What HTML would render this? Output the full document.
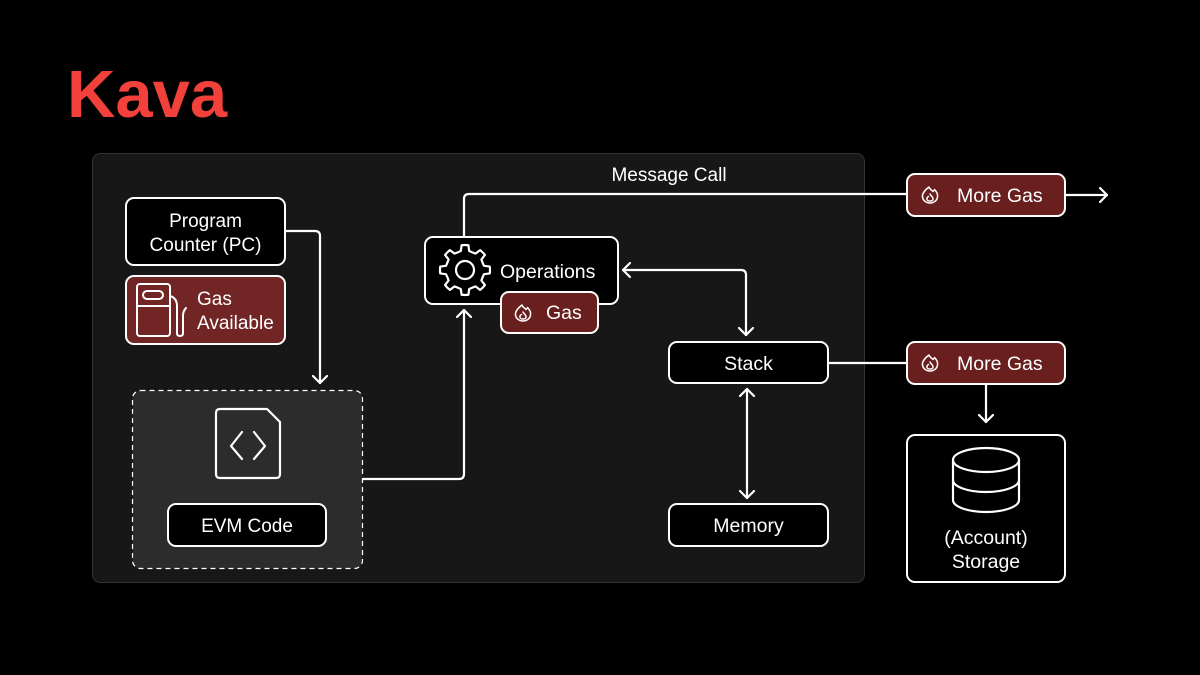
<!DOCTYPE html>
<html><head><meta charset="utf-8"><style>
html,body{margin:0;padding:0;background:#000;}
svg{display:block;}
text{font-family:"Liberation Sans",sans-serif;fill:#fff;}
</style></head><body>
<svg id="s" width="1200" height="675" viewBox="0 0 1200 675" xmlns="http://www.w3.org/2000/svg">
<defs>
<symbol id="flame" viewBox="0 0 20 20">
<path d="M9 2 C 9.5 4.5, 12 5, 13 6.5 C 14 5.5, 14.5 5, 14.5 4.5 C 17 7, 18 9.5, 17.5 12 C 17 15.5, 14 18, 10 18 C 6 18, 3 15.5, 2.5 12 C 2 8.5, 5 5, 9 2 Z" fill="none" stroke="#fff" stroke-width="1.5" stroke-linejoin="round"/>
<path d="M10 9 C 11 11, 13.5 12, 13 14.5 C 12.5 16.5, 7.5 16.5, 7 14.5 C 6.7 13, 7.5 12, 8.5 11.5" fill="none" stroke="#fff" stroke-width="1.5" stroke-linecap="round"/>
</symbol>
</defs>
<rect width="1200" height="675" fill="#000"/>
<text x="67" y="117" font-size="67" font-weight="bold" style="fill:#f2413b">Kava</text>

<rect x="92.5" y="153.5" width="772" height="429" rx="8" fill="#171717" stroke="#333" stroke-width="1"/>

<g fill="none" stroke="#fff" stroke-width="2.2" stroke-linecap="round" stroke-linejoin="round">
<path d="M285 231 H315 Q320 231 320 236 V383"/>
<path d="M313 376 L320 383 L327 376"/>
<path d="M363 479 H459 Q464 479 464 474 V310"/>
<path d="M457 317 L464 310 L471 317"/>
<path d="M464 237 V199 Q464 194 469 194 H907"/>
<path d="M1065 195 H1107"/>
<path d="M1100 188 L1107 195 L1100 202"/>
<path d="M623 270 H741 Q746 270 746 275 V335"/>
<path d="M630 263 L623 270 L630 277"/>
<path d="M739 328 L746 335 L753 328"/>
<path d="M747 389 V498"/>
<path d="M740 396 L747 389 L754 396"/>
<path d="M740 491 L747 498 L754 491"/>
<path d="M828 363 H907"/>
<path d="M986 384 V422"/>
<path d="M979 415 L986 422 L993 415"/>
</g>

<rect x="126" y="198" width="159" height="67" rx="8" fill="#000" stroke="#fff" stroke-width="2"/>
<text x="205.5" y="227" font-size="19" text-anchor="middle">Program</text>
<text x="205.5" y="251" font-size="19" text-anchor="middle">Counter (PC)</text>

<rect x="126" y="276" width="159" height="68" rx="8" fill="#722525" stroke="#fff" stroke-width="2"/>
<g fill="none" stroke="#fff" stroke-width="2" stroke-linejoin="round" stroke-linecap="round">
<rect x="137" y="284" width="33" height="52" rx="3"/>
<line x1="137" y1="306" x2="170" y2="306"/>
<rect x="143" y="291" width="20" height="8" rx="4"/>
<path d="M170 296 Q177 298 177 306 V333 Q177 336 180 336 Q183 336 183 333 V316 Q183 311 186 308"/>
</g>
<text x="197" y="305" font-size="19">Gas</text>
<text x="197" y="329" font-size="19">Available</text>

<rect x="132.5" y="390.5" width="230" height="178" rx="8" fill="#2c2c2c" stroke="#fff" stroke-width="1.2" stroke-dasharray="5 4"/>
<path d="M220 409 H267 L280 422 V474 Q280 478 276 478 H220 Q216 478 216 474 V413 Q216 409 220 409 Z" fill="none" stroke="#fff" stroke-width="2.2" stroke-linejoin="round"/>
<path d="M242 432 L231 446 L242 459 M254 432 L265 446 L254 459" fill="none" stroke="#fff" stroke-width="2.2" stroke-linecap="round" stroke-linejoin="round"/>
<rect x="168" y="504" width="158" height="42" rx="8" fill="#000" stroke="#fff" stroke-width="2"/>
<text x="247" y="532" font-size="19" text-anchor="middle">EVM Code</text>

<rect x="425" y="237" width="193" height="67" rx="8" fill="#000" stroke="#fff" stroke-width="2"/>
<path id="gear" fill="none" stroke="#fff" stroke-width="2.2" stroke-linejoin="round"/>
<circle cx="465" cy="270" r="9" fill="none" stroke="#fff" stroke-width="2.2"/>
<text x="500" y="278" font-size="19.5">Operations</text>
<rect x="501" y="292" width="97" height="41" rx="8" fill="#6a1f1f" stroke="#fff" stroke-width="2"/>
<use href="#flame" x="513" y="303" width="20" height="20"/>
<text x="546" y="319" font-size="19.5">Gas</text>

<text x="669" y="181" font-size="19" text-anchor="middle">Message Call</text>

<rect x="907" y="174" width="158" height="42" rx="8" fill="#6a1f1f" stroke="#fff" stroke-width="2"/>
<use href="#flame" x="920" y="185" width="20" height="20"/>
<text x="957" y="202" font-size="19.5">More Gas</text>

<rect x="669" y="342" width="159" height="41" rx="8" fill="#000" stroke="#fff" stroke-width="2"/>
<text x="748.5" y="370" font-size="19.5" text-anchor="middle">Stack</text>

<rect x="907" y="342" width="158" height="42" rx="8" fill="#6a1f1f" stroke="#fff" stroke-width="2"/>
<use href="#flame" x="920" y="353" width="20" height="20"/>
<text x="957" y="370" font-size="19.5">More Gas</text>

<rect x="669" y="504" width="159" height="42" rx="8" fill="#000" stroke="#fff" stroke-width="2"/>
<text x="748.5" y="532" font-size="19.5" text-anchor="middle">Memory</text>

<rect x="907" y="435" width="158" height="147" rx="8" fill="#000" stroke="#fff" stroke-width="2"/>
<g fill="none" stroke="#fff" stroke-width="2.2">
<ellipse cx="986" cy="460" rx="33" ry="12"/>
<path d="M953 460 V500 A33 12 0 0 0 1019 500 V460"/>
<path d="M953 480 A33 12 0 0 0 1019 480"/>
</g>
<text x="986" y="544" font-size="19.5" text-anchor="middle">(Account)</text>
<text x="986" y="568" font-size="19.5" text-anchor="middle">Storage</text>
</svg>
<script>
(function(){
var cx=465,cy=270,R=25,r=19.5,n=8,d="";
function p(a,rad){return [(cx+rad*Math.cos(a)).toFixed(2),(cy+rad*Math.sin(a)).toFixed(2)];}
for(var k=0;k<n;k++){
 var c=k*2*Math.PI/n - Math.PI/2, w=Math.PI/n;
 var a0=p(c-w*0.55,r), a1=p(c-w*0.35,R), a2=p(c+w*0.35,R), a3=p(c+w*0.55,r), v=p(c+w,r*0.97);
 if(k==0) d+="M"+a0[0]+" "+a0[1];
 d+=" L"+a1[0]+" "+a1[1]+" A"+R+" "+R+" 0 0 1 "+a2[0]+" "+a2[1]+" L"+a3[0]+" "+a3[1];
 var nx=p(c+2*w-w*0.55,r);
 d+=" Q"+v[0]+" "+v[1]+" "+nx[0]+" "+nx[1];
}
document.getElementById("gear").setAttribute("d",d+"Z");
})();
</script>
</body></html>
